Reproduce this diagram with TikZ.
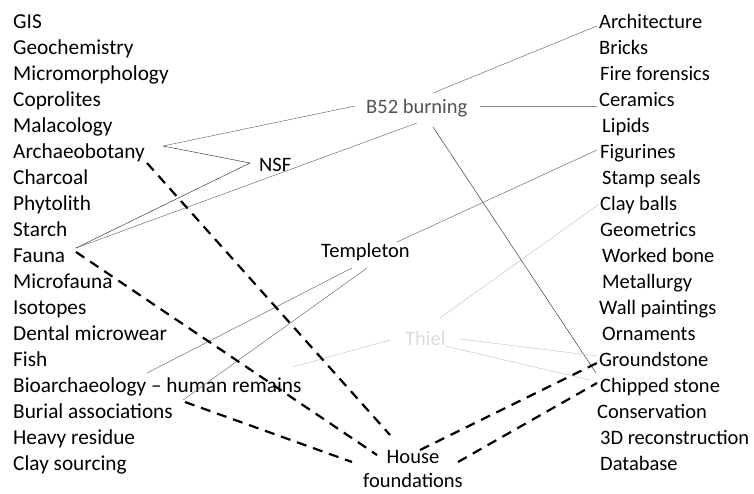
\documentclass[tikz,border=0pt]{standalone}
\usepackage{fontspec}
\setmainfont{Carlito}
\begin{document}
\begin{tikzpicture}[x=1pt,y=-1pt,
  item/.style={anchor=base west,inner sep=0pt,font=\fontsize{20.5}{24}\selectfont},
  litem/.style={item,font=\fontsize{21.3}{24}\selectfont},
  mid/.style={anchor=base west,inner sep=0pt,font=\fontsize{20.5}{24}\selectfont},
  thinline/.style={draw=black!75,line width=0.5pt},
  thinmid/.style={draw=black!60,line width=0.45pt},
  faint/.style={draw=black!22,line width=0.5pt},
  housedash/.style={draw=black,line width=2.2pt,dash pattern=on 10pt off 7pt}]
\useasboundingbox (0,0) rectangle (754,493);
% left column
\foreach \t [count=\i from 0] in {GIS,Geochemistry,Micromorphology,Coprolites,Malacology,Archaeobotany,Charcoal,Phytolith,Starch,Fauna,Microfauna,Isotopes,Dental microwear,Fish,Bioarchaeology -- human remains,Burial associations,Heavy residue,Clay sourcing}
  \node[litem] (L\i) at (13,28+26*\i) {\t};
% right column
\node[item] (R0) at (599,28) {Architecture};
\node[item] (R1) at (599,54) {Bricks};
\node[item] (R2) at (600,80) {Fire forensics};
\node[item] (R3) at (599,106) {Ceramics};
\node[item] (R4) at (602,132) {Lipids};
\node[item] (R5) at (600,158) {Figurines};
\node[item] (R6) at (602,184) {Stamp seals};
\node[item] (R7) at (600,210) {Clay balls};
\node[item] (R8) at (600,236) {Geometrics};
\node[item] (R9) at (602,262) {Worked bone};
\node[item] (R10) at (602,288) {Metallurgy};
\node[item] (R11) at (599,314) {Wall paintings};
\node[item] (R12) at (602,340) {Ornaments};
\node[item] (R13) at (599,366) {Groundstone};
\node[item] (R14) at (600,392) {Chipped stone};
\node[item] (R15) at (597,418) {Conservation};
\node[item] (R16) at (600,444) {3D reconstruction};
\node[item] (R17) at (600,470) {Database};
% middle nodes
\node[mid,text=black!68] (b52) at (366,113) {B52 burning};
\node[mid] (nsf) at (259,171) {NSF};
\node[mid] (temp) at (321,257) {Templeton};
\node[mid,text=black!14] (thiel) at (405,345) {Thiel};
\node[anchor=base,inner sep=0pt,align=center,font=\fontsize{20.5}{23.5}\selectfont] (house) at (413,487) {House\\foundations};
% connector end points
\coordinate (archE) at (163,146);
\coordinate (nsfW) at (250,163);
\coordinate (faunaE) at (76,248);
\coordinate (faunaD) at (76,252);
\coordinate (archD) at (147,163);
\coordinate (bioE) at (147,373);
\coordinate (burE) at (183,400);
\coordinate (burD) at (185,402);
\coordinate (b52W) at (355,106);
\coordinate (b52SW) at (417,123);
\coordinate (b52E) at (480,106);
\coordinate (b52NE) at (433,93);
\coordinate (b52SE) at (433,127);
\coordinate (tempNE) at (397,242);
\coordinate (tempS1) at (352,268);
\coordinate (tempS2) at (367,268);
\coordinate (thNE) at (440,318);
\coordinate (thW) at (390,340);
\coordinate (thWend) at (293,367);
\coordinate (thE) at (460,339);
\coordinate (thSE) at (445,346);
\coordinate (archiW) at (597,26);
\coordinate (ceramW) at (597,106);
\coordinate (figW) at (597,150);
\coordinate (clayW) at (598,205);
\coordinate (groundW) at (597,356);
\coordinate (groundD) at (597,363);
\coordinate (chipW) at (596,373);
\coordinate (chipT) at (590,380);
\coordinate (chipD) at (597,383);
\coordinate (hA) at (390,435);
\coordinate (hB) at (377,455);
\coordinate (hC) at (352,462);
\coordinate (hD) at (420,450);
\coordinate (hE) at (458,462);
% thin connectors
\draw[thinmid] (archE) -- (b52W);
\draw[thinline] (archE) -- (nsfW) -- (faunaE);
\draw[thinmid] (faunaE) -- (b52SW);
\draw[thinmid,draw=black!45] (b52E) -- (ceramW);
\draw[thinmid] (b52NE) -- (archiW);
\draw[thinline] (b52SE) -- (chipW);
\draw[thinmid] (tempNE) -- (figW);
\draw[thinmid] (tempS1) -- (bioE);
\draw[thinmid] (tempS2) -- (burE);
% faint Thiel connectors
\draw[faint] (thNE) -- (clayW);
\draw[faint] (thW) -- (thWend);
\draw[faint] (thE) -- (groundW);
\draw[faint] (thSE) -- (chipT);
% dashed house connectors
\draw[housedash] (archD) -- (hA);
\draw[housedash] (faunaD) -- (hB);
\draw[housedash] (burD) -- (hC);
\draw[housedash] (hD) -- (groundD);
\draw[housedash] (hE) -- (chipD);
\end{tikzpicture}
\end{document}
